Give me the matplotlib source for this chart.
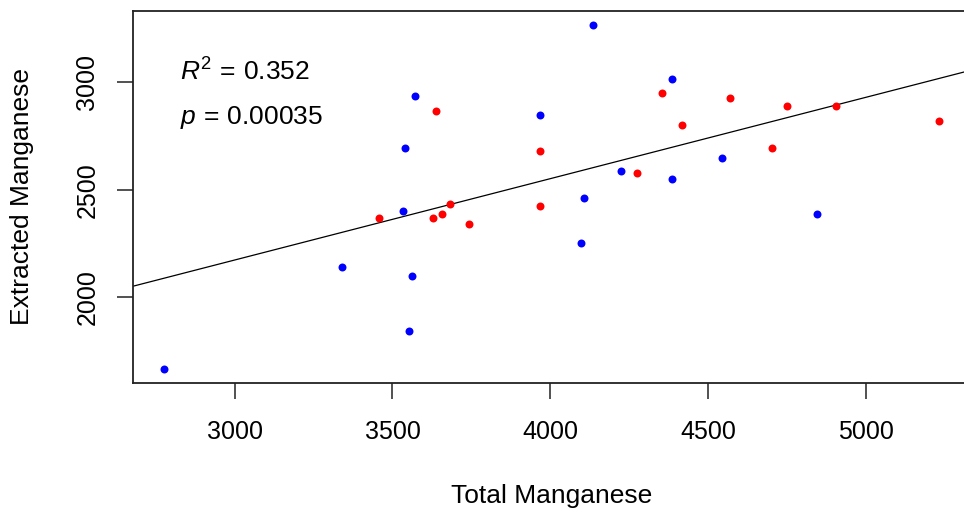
import numpy as np
import matplotlib
matplotlib.use("Agg")
import matplotlib.pyplot as plt

plt.rcParams['font.family'] = ['Liberation Sans', 'DejaVu Sans']
plt.rcParams['mathtext.fontset'] = 'custom'
plt.rcParams['mathtext.rm'] = 'Liberation Sans'
plt.rcParams['mathtext.it'] = 'Liberation Sans:italic'

# group 1 (blue)
total_blue = [3570, 3539, 3534, 3340, 3561, 3551, 2777, 4135,
              4386, 3966, 4543, 4223, 4386, 4107, 4844, 4097]
extr_blue = [2935, 2696, 2402, 2140, 2101, 1845, 1668, 3267,
             3013, 2850, 2650, 2588, 2549, 2464, 2386, 2254]

# group 2 (red)
total_red = [3639, 3456, 3628, 3656, 3681, 3744, 4354, 4571,
             4749, 4906, 4416, 5232, 3966, 4701, 4276, 3966]
extr_red = [2865, 2371, 2371, 2388, 2433, 2341, 2951, 2927,
            2888, 2888, 2803, 2819, 2679, 2695, 2580, 2425]

r2_text = "0.352"
p_text = "0.00035"

xticks = [3000, 3500, 4000, 4500, 5000]
yticks = [2000, 2500, 3000]

x_all = np.array(total_blue + total_red, dtype=float)
y_all = np.array(extr_blue + extr_red, dtype=float)
slope, icept = np.polyfit(x_all, y_all, 1)

fig = plt.figure(figsize=(9.64, 5.15), dpi=100)
ax = fig.add_axes([0.1383, 0.2569, 0.868, 0.7217])

ax.scatter(total_blue, extr_blue, s=33, color='#0000FF', linewidths=0, zorder=3)
ax.scatter(total_red, extr_red, s=33, color='#FF0000', linewidths=0, zorder=3)

# R-style 4% padding on both axes
xr = x_all.max() - x_all.min()
yr = y_all.max() - y_all.min()
xlim = (x_all.min() - 0.04 * xr, x_all.max() + 0.04 * xr)
ylim = (y_all.min() - 0.04 * yr, y_all.max() + 0.04 * yr)
xx = np.array(xlim)
ax.plot(xx, icept + slope * xx, color='black', lw=0.9, zorder=2)
ax.set_xlim(xlim)
ax.set_ylim(ylim)

ax.set_xticks(xticks)
ax.set_yticks(yticks)
ax.tick_params(direction='out', length=11.5, width=1.1, labelsize=18, color='#222222')
ax.tick_params(axis='x', pad=15)
ax.tick_params(axis='y', pad=13)
for lab in ax.get_yticklabels():
    lab.set_rotation(90)
    lab.set_va('center')
for sp in ax.spines.values():
    sp.set_linewidth(1.3)
    sp.set_color('#222222')

ax.set_xlabel("Total Manganese", fontsize=19)
ax.set_ylabel("Extracted Manganese", fontsize=19)
ax.xaxis.set_label_coords(0.5, -0.305)
ax.yaxis.set_label_coords(-0.133, 0.5)
ax.xaxis.label.set_va('center')
ax.yaxis.label.set_va('center')

ax.text(0.0558, 0.814, r"$R^2\, = \,$" + r2_text, transform=ax.transAxes,
        fontsize=19, va='baseline', ha='left')
ax.text(0.0558, 0.695, r"$p\, = \,$" + p_text, transform=ax.transAxes,
        fontsize=19, va='baseline', ha='left')

fig.savefig("out.png", dpi=100)
